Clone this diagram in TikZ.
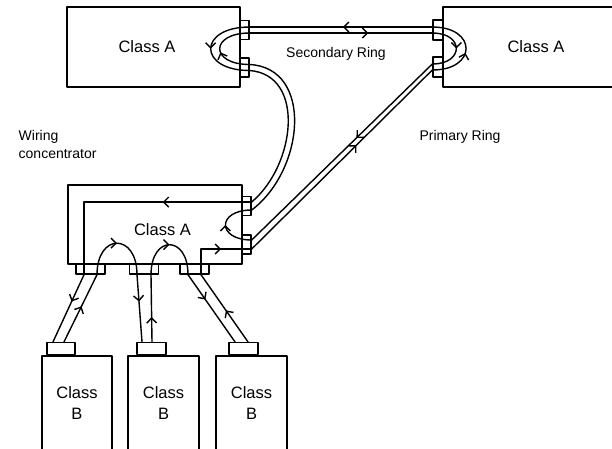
\documentclass[tikz,border=0pt]{standalone}
\usepackage{fontspec}
\setmainfont{Liberation Sans}
\usepackage{tikz}
\usetikzlibrary{arrows.meta}
\usetikzlibrary{decorations.markings}
\usetikzlibrary{positioning}
\tikzset{
  ring_box/.style = {draw, inner sep=0pt},% station
  ring_plug/.style = {draw, fill=white, inner sep=0pt,
    minimum width=9pt, minimum height=19pt},% plug on the side of a station
  lobe_plug/.style = {ring_plug, minimum width=29pt, minimum height=10pt},% lobe plug
  cls_lbl/.style = {font=\fontsize{16.5}{21}\selectfont, align=center},
  ring_lbl/.style = {font=\fontsize{14}{18}\selectfont, align=left},
  flow/.style = {postaction={decorate}, decoration={markings,
    mark=at position #1 with {\arrow{Straight Barb[length=5pt,width=10pt]}}}}% sens du signal
}

\begin{document}
\begin{tikzpicture}[x=1pt, y=-1pt, line width=1.4pt, line cap=round, line join=round]
\useasboundingbox (0,0) rectangle (612,448);
% stations
\node [ring_box, minimum width=173pt, minimum height=80pt] (a1) at (153.5,47) {};
\node [ring_box, minimum width=186pt, minimum height=80pt] (a2) at (536,47) {};
\node [ring_box, minimum width=174pt, minimum height=79pt] (a3) at (155,224.5) {};
\node [ring_box, cls_lbl, minimum width=70pt, minimum height=94pt] (b1) at (77,403) {Class\\B};
\node [ring_box, cls_lbl, minimum width=71pt, minimum height=94pt] (b2) at (163.5,403) {Class\\B};
\node [ring_box, cls_lbl, minimum width=71pt, minimum height=94pt] (b3) at (251.5,403) {Class\\B};
\node at (a1) [xshift=-6.5pt, cls_lbl] {Class A};
\node at (a2) [cls_lbl] {Class A};
\node at (a3) [xshift=7.5pt, yshift=-5.5pt, cls_lbl] {Class A};
% plugs
\node [ring_plug] (p1) at (244.5,30) {};
\node [ring_plug] (p2) at (244.5,67.5) {};
\node [ring_plug, minimum width=10pt, minimum height=20pt] (p3) at (438,30) {};
\node [ring_plug, minimum width=10pt, minimum height=20pt] (p4) at (438,67) {};
\node [ring_plug] (p5) at (246.5,206) {};
\node [ring_plug] (p6) at (246.5,244.5) {};
\node [lobe_plug] (c1) at (90.5,269) {};
\node [lobe_plug] (c2) at (144,269) {};
\node [lobe_plug] (c3) at (194.5,269) {};
\node [lobe_plug, minimum width=28pt, minimum height=12pt, above=0pt of b1, xshift=-16pt] (d1) {};
\node [lobe_plug, minimum height=12pt, above=0pt of b2, xshift=-12pt] (d2) {};
\node [lobe_plug, minimum height=12pt, above=0pt of b3, xshift=-8pt] (d3) {};
% wire ends
\path (p1.east) +(0,-3) coordinate (p1u) +(0,3) coordinate (p1d);
\path (p2.east) +(0,-3) coordinate (p2u) +(0,3) coordinate (p2d);
\path (p3.west) +(0,-3) coordinate (p3u) +(0,3) coordinate (p3d);
\path (p4.west) +(0,-3) coordinate (p4u) +(0,3) coordinate (p4d);
\path (p5.east) +(0,-4) coordinate (p5u) +(0,4) coordinate (p5d);
\path (p6.east) +(0,-4.5) coordinate (p6u) +(0,4.5) coordinate (p6d);
\path (c1.south) +(-6.5,0) coordinate (c1l) +(6.5,0) coordinate (c1r);
\path (c2.south) +(-7,0) coordinate (c2l) +(7,0) coordinate (c2r);
\path (c3.south) +(-6.5,0) coordinate (c3l) +(6.5,0) coordinate (c3r);
\path (d1.north) +(-8,0) coordinate (d1l) +(3,0) coordinate (d1r);
\path (d2.north) +(-9.5,0) coordinate (d2l) +(0.5,0) coordinate (d2r);
\path (d3.north) +(-8.5,0) coordinate (d3l) +(4.5,0) coordinate (d3r);
% secondary ring cable
\draw [flow=0.49] (p3u) -- (p1u);
\draw [flow=0.65] (p1d) -- (p3d);
% loops
\draw [flow=0.5] (p1u) .. controls +(-52,0) and +(-52,0) .. (p2d);
\draw [flow=0.45] (p2u) .. controls +(-40,0) and +(-40,0) .. (p1d);
\draw [flow=0.5] (p3d) .. controls +(32,0) and +(32,0) .. (p4u);
\draw [flow=0.45] (p4d) .. controls +(45,0) and +(45,0) .. (p3u);
\draw [flow=0.5] (p6u) .. controls +(-35,0) and +(-35,0) .. (p5d);
% cable down to the concentrator
\draw (p2d) .. controls +(56,4.5) and +(44,-37) .. (p5u);
\draw (p2u) .. controls +(64,3.5) and +(53,-40) .. (p5d);
% primary ring cable
\draw [flow=0.42] (p4u) -- (p6u);
\draw [flow=0.58] (p6d) -- (p4d);
% inside the concentrator
\draw [flow=0.37] (p5u) -| (c1l);
\draw [flow=0.5] (c1r) .. controls +(0,-42) and +(0,-42) .. (c2l);
\draw [flow=0.5] (c2r) .. controls +(0,-40) and +(0,-40) .. (c3l);
\draw [flow=0.6] (c3r) |- (p6d);
% lobes
\draw [flow=0.4] (c1l) -- (d1l);
\draw [flow=0.53] (d1r) -- (c1r);
\draw [flow=0.4] (c2l) -- (d2l);
\draw [flow=0.37] (d2r) -- (c2r);
\draw [flow=0.37] (c3l) -- (d3l);
\draw [flow=0.47] (d3r) -- (c3r);
% labels
\node [ring_lbl] at (336,54) {Secondary Ring};
\node [ring_lbl] at (460,137) {Primary Ring};
\node [ring_lbl, anchor=north west, inner sep=0pt] at (18,130) {Wiring\\concentrator};
\end{tikzpicture}
\end{document}
